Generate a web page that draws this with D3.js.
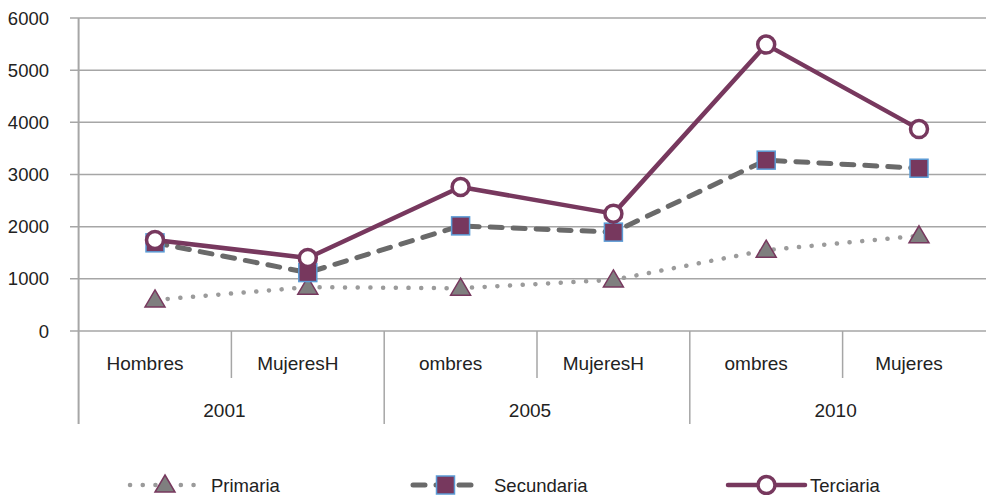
<!DOCTYPE html>
<html>
<head>
<meta charset="utf-8">
<script src="https://cdn.jsdelivr.net/npm/d3@7/dist/d3.min.js"></script>
<style>
html,body{margin:0;padding:0;background:#fff;overflow:hidden;}
text{font-family:"Liberation Sans",Arial,sans-serif;fill:#222;}
</style>
</head>
<body>
<svg id="chart" width="986" height="495"></svg>
<script>
const categories = ["Hombres","MujeresH","ombres","MujeresH","ombres","Mujeres"];
const years = ["2001","2005","2010"];
const yTicks = [0,1000,2000,3000,4000,5000,6000];
const seriesNames = ["Primaria","Secundaria","Terciaria"];
const primaria   = [595, 840, 820, 980, 1550, 1825];
const secundaria = [1690, 1120, 2015, 1895, 3275, 3120];
const terciaria  = [1745, 1400, 2760, 2250, 5490, 3870];

(function(){
const svg = d3.select("#chart");
const pLeft = 78.6, pRight = 995.4, pTop = 18, pBottom = 331;
const idx = d3.range(categories.length);
const x = d3.scaleBand().domain(idx).range([pLeft, pRight]);
const y = d3.scaleLinear().domain([0, 6000]).range([pBottom, pTop]);
const grid = "#a6a6a6";

// gridlines + y labels
const ya = svg.append("g");
ya.selectAll("line").data(yTicks).join("line")
  .attr("x1", 70).attr("x2", pRight).attr("y1", d => y(d)).attr("y2", d => y(d))
  .attr("stroke", grid).attr("stroke-width", 1.5);
ya.selectAll("text").data(yTicks).join("text")
  .attr("x", 49).attr("y", d => y(d)).attr("dy", "0.36em")
  .attr("text-anchor", "end").attr("font-size", 18.5).text(d => d);

// axis line
svg.append("line").attr("x1", pLeft).attr("x2", pLeft).attr("y1", pTop).attr("y2", 424)
  .attr("stroke", grid).attr("stroke-width", 2);

// category separators
idx.slice(1).forEach(i => {
  const xx = x(i);
  svg.append("line").attr("x1", xx).attr("x2", xx).attr("y1", pBottom)
    .attr("y2", i % 2 === 0 ? 424 : 378).attr("stroke", grid).attr("stroke-width", 1.5);
});
// category labels
svg.append("g").selectAll("text").data(categories).join("text")
  .attr("x", (d, i) => x(i) + x.bandwidth() / 2 - 10).attr("y", 370)
  .attr("text-anchor", "middle").attr("font-size", 19).text(d => d);
svg.append("g").selectAll("text").data(years).join("text")
  .attr("x", (d, i) => x(i * 2) + x.bandwidth() - 7).attr("y", 417)
  .attr("text-anchor", "middle").attr("font-size", 19).text(d => d);

const maroon = "#77385e";
const styles = [
  {data: primaria, color: "#9b9b9b", w: 4.5, dash: "0.1,12.6", marker: "tri"},
  {data: secundaria, color: "#6a6a6a", w: 5, dash: "12,11", marker: "sq"},
  {data: terciaria, color: maroon, w: 4.5, dash: null, marker: "circ"}
];
const line = d3.line().x((d, i) => x(i) + x.bandwidth() / 2).y(d => y(d));

function marker(g, type, cx, cy) {
  if (type === "tri") {
    g.append("path").attr("d", `M${cx},${cy-10}L${cx+10},${cy+7}L${cx-10},${cy+7}Z`)
      .attr("fill", "#7f7f7f").attr("stroke", maroon).attr("stroke-width", 1.5);
  } else if (type === "sq") {
    g.append("rect").attr("x", cx - 9).attr("y", cy - 9).attr("width", 18).attr("height", 18)
      .attr("fill", maroon).attr("stroke", "#5b9bd5").attr("stroke-width", 1.5);
  } else {
    g.append("circle").attr("cx", cx).attr("cy", cy).attr("r", 8.5)
      .attr("fill", "#fff").attr("stroke", maroon).attr("stroke-width", 3.5);
  }
}

styles.forEach(s => {
  const g = svg.append("g");
  g.append("path").attr("d", line(s.data)).attr("fill", "none")
    .attr("stroke", s.color).attr("stroke-width", s.w)
    .attr("stroke-linecap", "round").attr("stroke-linejoin", "round")
    .attr("stroke-dasharray", s.dash);
  s.data.forEach((v, i) => marker(g, s.marker, x(i) + x.bandwidth() / 2, y(v)));
});

// legend
const legX = [[130, 200, 211], [413, 478, 494], [728, 805, 810]];
const ly = 485;
styles.forEach((s, k) => {
  const g = svg.append("g");
  const [a, b, t] = legX[k];
  g.append("line").attr("x1", a).attr("x2", b).attr("y1", ly).attr("y2", ly)
    .attr("stroke", s.color).attr("stroke-width", s.w)
    .attr("stroke-linecap", "round").attr("stroke-dasharray", s.dash);
  marker(g, s.marker, (a + b) / 2, ly);
  g.append("text").attr("x", t).attr("y", ly).attr("dy", "0.36em")
    .attr("font-size", 18.5).text(seriesNames[k]);
});
})();
</script>
</body>
</html>
